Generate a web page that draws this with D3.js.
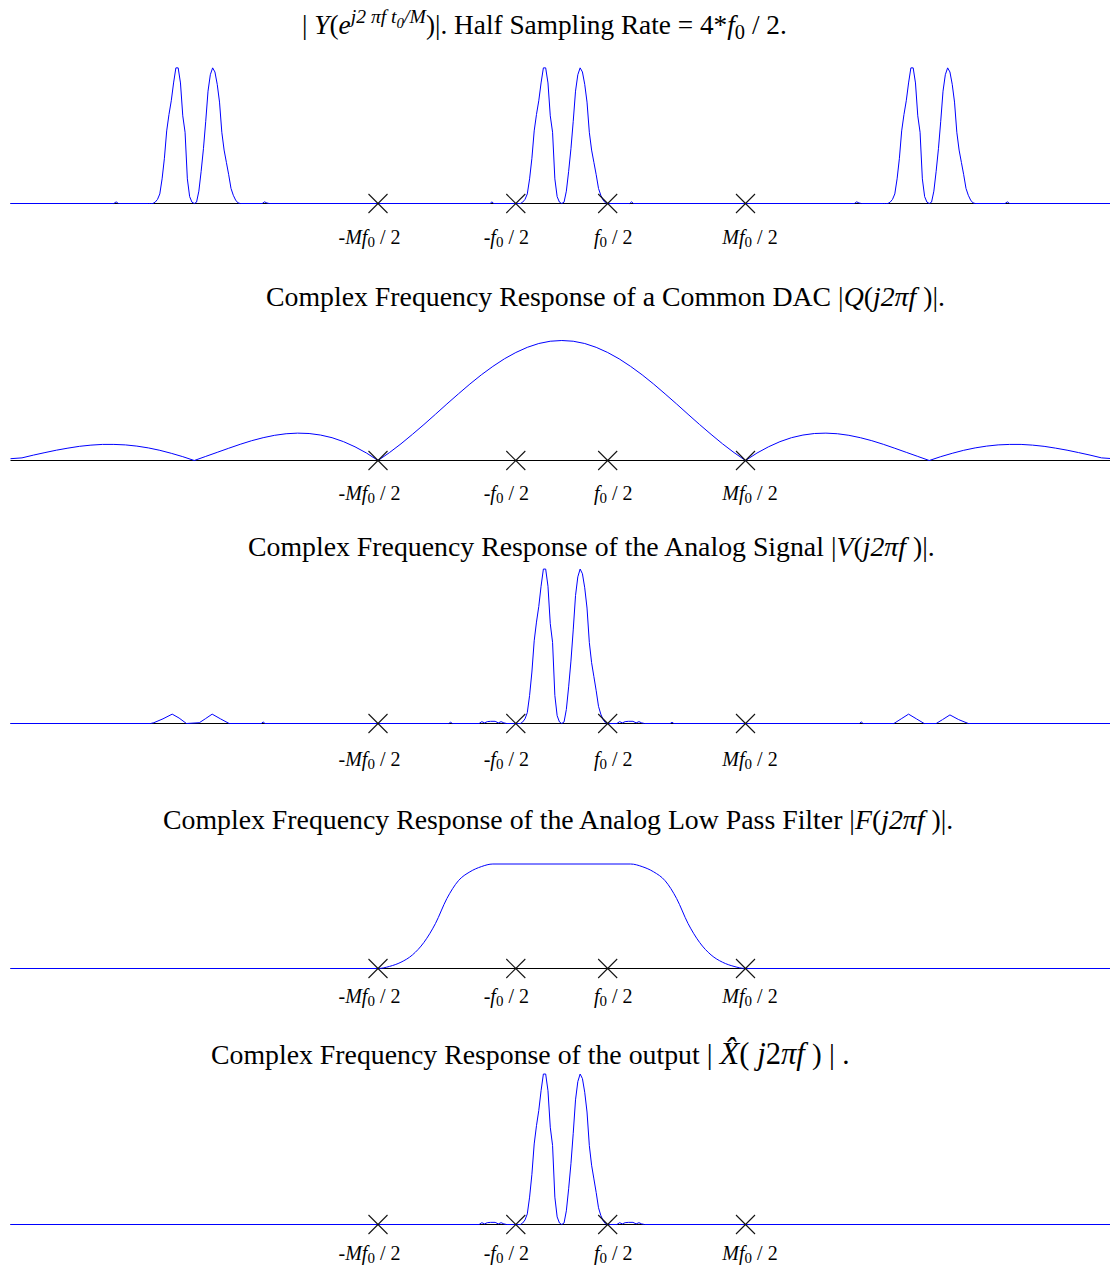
<!DOCTYPE html>
<html>
<head>
<meta charset="UTF-8">
<title>DAC reconstruction spectra</title>
<script src="https://d3js.org/d3.v7.min.js"></script>
<style>
  body { margin: 0; padding: 0; background: #fff; }
  svg { display: block; font-family: "Liberation Serif", "Times New Roman", serif; }
  .base { stroke: #000; stroke-width: 1px; }
  .curve { fill: none; stroke: #0000ff; stroke-width: 1px; }
  .mark { stroke: #111; stroke-width: 1.1px; }
  .title { fill: #000; white-space: pre; }
  .tlabel { fill: #000; white-space: pre; }
</style>
</head>
<body>
<svg id="chart" width="1110" height="1268"></svg>
<script>
// frequency axis in units of f0/2, M = 4
const freqDomain = [-12, 12];
const markerFreq = [-4, -1, 1, 4];
const markerNames = ["-Mf", "-f", "f", "Mf"];

// baseband signal spectrum (two lobes round 0)
const sigFreq = [-1.0, -0.95, -0.9, -0.85, -0.8, -0.75, -0.7, -0.65, -0.6, -0.55, -0.5,
  -0.45, -0.4, -0.35, -0.3, -0.25, -0.2, -0.15, -0.1, -0.05, 0,
  0.05, 0.1, 0.15, 0.2, 0.25, 0.3, 0.35, 0.4, 0.45, 0.5,
  0.55, 0.6, 0.65, 0.7, 0.75, 0.8, 0.85, 0.9, 0.95, 1.0];
const sigMag = [0, 0, 0, 0.01, 0.03, 0.07, 0.18, 0.33, 0.53, 0.65, 0.75,
  0.88, 0.99, 0.99, 0.88, 0.64, 0.52, 0.18, 0.05, 0.01, 0,
  0.01, 0.09, 0.235, 0.40, 0.60, 0.82, 0.94, 0.99, 0.96, 0.87,
  0.74, 0.52, 0.39, 0.30, 0.21, 0.11, 0.06, 0.025, 0.005, 0];

// spectral images of the sampled signal (panel 1)
const imageShift = [-8, 0, 8];
const yBlipFreq = [-9.75, -9.7, -9.65, -6.52, -6.47, -6.42, -6.37, -1.56, -1.52, -1.48,
  1.48, 1.52, 1.56, 6.37, 6.42, 6.47, 6.52, 9.65, 9.7, 9.75];
const yBlipMag = [0, 0.012, 0, 0, 0.012, 0.004, 0, 0, 0.012, 0,
  0, 0.012, 0, 0, 0.012, 0.004, 0, 0, 0.012, 0];

// DAC (zero order hold) magnitude
const dacFreq = d3.range(-48, 49).map(k => k / 4);
const dacMag = [0.015, 0.022, 0.045, 0.066, 0.086, 0.103, 0.118, 0.128, 0.134, 0.134, 0.130, 0.120, 0.105, 0.085, 0.060, 0.032,
  0, 0.034, 0.068, 0.102, 0.135, 0.165, 0.190, 0.210, 0.223, 0.228, 0.225, 0.212, 0.190, 0.157, 0.114, 0.062,
  0, 0.066, 0.139, 0.218, 0.300, 0.385, 0.471, 0.555, 0.637, 0.714, 0.784, 0.847, 0.900, 0.943, 0.975, 0.994,
  1,
  0.994, 0.975, 0.943, 0.900, 0.847, 0.784, 0.714, 0.637, 0.555, 0.471, 0.385, 0.300, 0.218, 0.139, 0.066, 0,
  0.062, 0.114, 0.157, 0.190, 0.212, 0.225, 0.228, 0.223, 0.210, 0.190, 0.165, 0.135, 0.102, 0.068, 0.034, 0,
  0.032, 0.060, 0.085, 0.105, 0.120, 0.130, 0.134, 0.134, 0.128, 0.118, 0.103, 0.086, 0.066, 0.045, 0.022, 0.015];

// leftovers of the images after the DAC (panel 3)
const vExtraFreq = [-8.95, -8.88, -8.68, -8.48, -8.33, -8.17, -7.89, -7.76, -7.61, -7.43, -7.24,
  -6.54, -6.5, -6.46, -2.46, -2.42, -2.38, 2.36, 2.4, 2.44, 6.48, 6.52, 6.56,
  7.23, 7.39, 7.55, 7.72, 7.89, 8.15, 8.29, 8.45, 8.64, 8.85];
const vExtraMag = [0, 0.005, 0.03, 0.06, 0.035, 0, 0.005, 0.03, 0.06, 0.03, 0,
  0, 0.01, 0, 0, 0.008, 0, 0, 0.008, 0, 0, 0.01, 0,
  0, 0.03, 0.06, 0.03, 0, 0, 0.025, 0.055, 0.025, 0];

// small ripple next to +-f0/2 (panels 3 and 5)
const rippleFreq = [-1.80, -1.74, -1.68, -1.62, -1.55, -1.45, -1.38, -1.32, -1.26, -1.20,
  1.20, 1.26, 1.32, 1.38, 1.45, 1.55, 1.62, 1.68, 1.74, 1.80];
const rippleMag = [0, 0.012, 0.004, 0.012, 0.014, 0.014, 0.004, 0.012, 0.004, 0,
  0, 0.012, 0.004, 0.012, 0.014, 0.014, 0.004, 0.012, 0.004, 0];

// analog low pass filter
const lpfFreq = [-12, -4, -3.75, -3.5, -3.25, -3, -2.75, -2.5, -2.25, -2, -1.75, -1.5,
  1.5, 1.75, 2, 2.25, 2.5, 2.75, 3, 3.25, 3.5, 3.75, 4, 12];
const lpfMag = [0, 0, 0.02, 0.06, 0.13, 0.25, 0.43, 0.67, 0.84, 0.925, 0.975, 1,
  1, 0.975, 0.925, 0.84, 0.67, 0.43, 0.25, 0.13, 0.06, 0.02, 0, 0];

// helpers
const pts = (f, m, shift = 0) => f.map((v, i) => [v + shift, m[i]]);
const edges = [[freqDomain[0], 0], [freqDomain[1], 0]];
const sortF = a => a.sort((p, q) => p[0] - q[0]);

const series = [
  sortF([].concat(edges, ...imageShift.map(s => pts(sigFreq, sigMag, s)), pts(yBlipFreq, yBlipMag))),
  pts(dacFreq, dacMag),
  sortF([].concat(edges, pts(sigFreq, sigMag), pts(rippleFreq, rippleMag), pts(vExtraFreq, vExtraMag))),
  pts(lpfFreq, lpfMag),
  sortF([].concat(edges, pts(sigFreq, sigMag), pts(rippleFreq, rippleMag)))
];

// titles: [text, italic, baseline shift, size factor]
const titles = [
  [["| ", 0], ["Y", 1], ["(", 0], ["e", 1], ["j2 \u03c0f t", 1, -11, 0.72], ["0", 1, -6, 0.55], ["/M", 1, -11, 0.72],
   [")|. Half Sampling Rate = 4*", 0], ["f", 1], ["0", 0, 5, 0.75], [" / 2.", 0]],
  [["Complex Frequency Response of a Common DAC |", 0], ["Q", 1], ["(", 0], ["j2\u03c0f ", 1], [")|.", 0]],
  [["Complex Frequency Response of the Analog Signal |", 0], ["V", 1], ["(", 0], ["j2\u03c0f ", 1], [")|.", 0]],
  [["Complex Frequency Response of the Analog Low Pass Filter |", 0], ["F", 1], ["(", 0], ["j2\u03c0f ", 1], [")|.", 0]],
  [["Complex Frequency Response of the output ", 0], ["| ", 0, 0, 1.05], ["X\u0302", 1, 0, 1.15], ["( ", 0, 0, 1.1], ["j", 1, 0, 1.1],
   ["2", 0, 0, 1.1], ["\u03c0f", 1, 0, 1.1], [" ) | .", 0, 0, 1.05]]
];

// layout of the five stacked panels
const panels = [
  { base: 203, top: 66, tx: 302, ty: 34, ly: 41, ts: 27.3 },
  { base: 460, top: 340, tx: 266, ty: 306, ly: 40, ts: 27.8 },
  { base: 723, top: 567, tx: 248, ty: 556, ly: 43, ts: 27.8 },
  { base: 968, top: 863.5, tx: 163, ty: 829, ly: 35, ts: 27.8 },
  { base: 1224, top: 1072, tx: 211, ty: 1064, ly: 36, ts: 27.8 }
];
const labelDx = [-8.5, -9.5, 5.5, 4.5];
const labelSize = 20;

const svg = d3.select("#chart");
const x = d3.scaleLinear().domain(freqDomain).range([10.5, 1113]);

function rich(textSel, parts, size) {
  let cur = 0;
  parts.forEach(p => {
    const [txt, it, shift = 0, sc = 1] = p;
    textSel.append("tspan")
      .attr("dy", shift - cur)
      .style("font-style", it ? "italic" : "normal")
      .style("font-size", (size * sc) + "px")
      .text(txt);
    cur = shift;
  });
}

panels.forEach((p, i) => {
  const y = d3.scaleLinear().domain([0, 1]).range([p.base, p.top]);
  const g = svg.append("g");

  const t = g.append("text").attr("class", "title").attr("x", p.tx).attr("y", p.ty);
  rich(t, titles[i], p.ts);

  g.append("line").attr("class", "base")
    .attr("x1", x(freqDomain[0])).attr("x2", x(freqDomain[1]))
    .attr("y1", p.base + 0.5).attr("y2", p.base + 0.5);

  const line = d3.line().x(d => x(d[0])).y(d => y(d[1]) + 0.5);
  if (i === 3) line.curve(d3.curveMonotoneX);
  g.append("path").attr("class", "curve").attr("d", line(series[i]));

  // X markers and their labels
  markerFreq.forEach((f, k) => {
    const cx = x(f), cy = p.base + 0.5, r = 9.5;
    g.append("line").attr("class", "mark").attr("x1", cx - r).attr("y1", cy - r).attr("x2", cx + r).attr("y2", cy + r);
    g.append("line").attr("class", "mark").attr("x1", cx - r).attr("y1", cy + r).attr("x2", cx + r).attr("y2", cy - r);

    const name = markerNames[k];
    const lab = g.append("text").attr("class", "tlabel")
      .attr("x", cx + labelDx[k]).attr("y", p.base + p.ly)
      .attr("text-anchor", "middle");
    const parts = [];
    if (name[0] === "-") parts.push(["-", 0]);
    parts.push([name.replace("-", ""), 1], ["0", 0, 3, 0.75], [" / 2", 0]);
    rich(lab, parts, labelSize);
  });
});
</script>
</body>
</html>
